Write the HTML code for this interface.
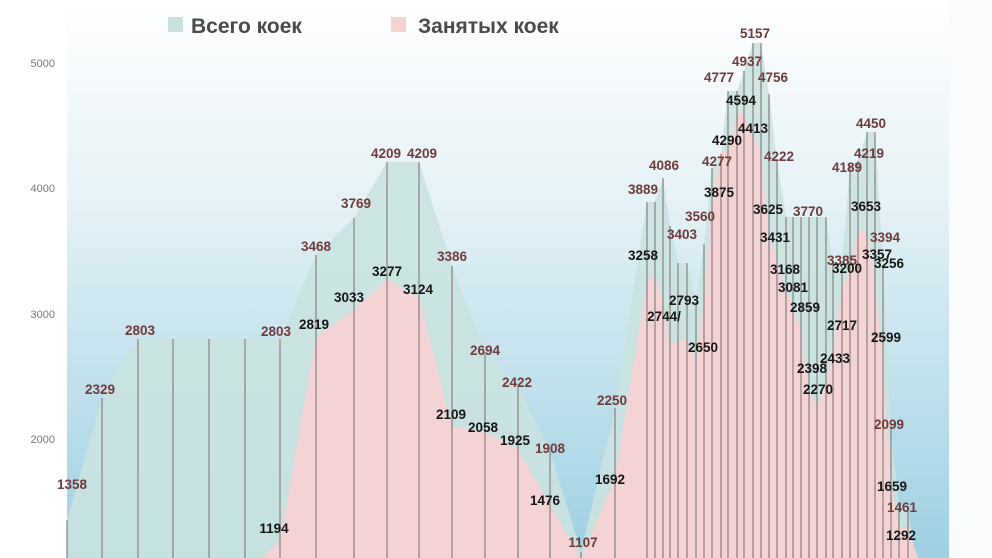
<!DOCTYPE html>
<html><head><meta charset="utf-8"><style>
html,body{margin:0;padding:0;background:#fff;}
svg{display:block;font-family:"Liberation Sans","DejaVu Sans",sans-serif;}
.t{fill:#6e3a3a;font-weight:bold;font-size:13.5px;text-anchor:middle;}
.o{fill:#151515;font-weight:bold;font-size:13.5px;text-anchor:middle;}
.ax{fill:#777;font-size:11px;text-anchor:end;}
</style></head><body>
<svg width="992" height="558" viewBox="0 0 992 558">
<defs>
<linearGradient id="bg" x1="0" y1="0" x2="0" y2="1">
<stop offset="0" stop-color="#ffffff"/><stop offset="0.35" stop-color="#e6f2f6"/><stop offset="1" stop-color="#9fd0e2"/>
</linearGradient>
</defs>
<rect x="0" y="0" width="992" height="558" fill="#fff"/>
<rect x="67" y="0" width="882" height="558" fill="url(#bg)"/>
<rect x="949" y="0" width="43" height="558" fill="#fafbfb"/>
<text class="ax" x="55" y="67">5000</text>
<text class="ax" x="55" y="192">4000</text>
<text class="ax" x="55" y="318">3000</text>
<text class="ax" x="55" y="443">2000</text>
<polygon fill="#c9e2df" fill-opacity="0.88" points="67,558 67,520 102,398 138,339 173,339 209,339 245,339 280,339 316,255 354,218 387,162 419,162 452,266 485,352 518,387 550,451 581,552 615,408 647,202 655,202 663,178 670,226 678,263 687,263 696,302 704,244 712,168 721,154 728,91 737,91 744,71 753,43 761,43 769,94 777,161 786,217 793,217 801,217 809,217 817,217 826,217 833,266 842,266 850,165 858,161 867,132 875,132 883,265 891,427 899,507 908,507 915,558"/>
<polygon fill="#f5d2d3" fill-opacity="0.96" points="250,558 262,558 280,541 316,337 354,310 387,279 419,298 452,426 485,432 518,449 550,505 581,558 615,478 647,282 655,276 663,302 670,346 678,340 687,340 696,358 704,302 712,204 721,152 728,152 737,114 744,114 753,137 761,151 769,236 777,260 786,293 793,304 801,332 809,390 817,406 826,385 833,350 842,289 850,269 858,232 867,232 875,282 883,364 891,482 899,528 908,528 918,558"/>
<g stroke="#8a7f80" stroke-width="1.5" stroke-opacity="0.8">
<line x1="67" y1="520" x2="67" y2="558"/><line x1="102" y1="398" x2="102" y2="558"/><line x1="138" y1="339" x2="138" y2="558"/><line x1="173" y1="339" x2="173" y2="558"/><line x1="209" y1="339" x2="209" y2="558"/><line x1="245" y1="339" x2="245" y2="558"/><line x1="280" y1="339" x2="280" y2="558"/><line x1="316" y1="255" x2="316" y2="558"/><line x1="354" y1="218" x2="354" y2="558"/><line x1="387" y1="162" x2="387" y2="558"/><line x1="419" y1="162" x2="419" y2="558"/><line x1="452" y1="266" x2="452" y2="558"/><line x1="485" y1="352" x2="485" y2="558"/><line x1="518" y1="387" x2="518" y2="558"/><line x1="550" y1="451" x2="550" y2="558"/><line x1="581" y1="552" x2="581" y2="558"/><line x1="615" y1="408" x2="615" y2="558"/>
<line x1="647" y1="202" x2="647" y2="558"/><line x1="655" y1="202" x2="655" y2="558"/><line x1="663" y1="178" x2="663" y2="558"/><line x1="670" y1="226" x2="670" y2="558"/><line x1="678" y1="263" x2="678" y2="558"/><line x1="687" y1="263" x2="687" y2="558"/><line x1="696" y1="302" x2="696" y2="558"/><line x1="704" y1="244" x2="704" y2="558"/><line x1="712" y1="168" x2="712" y2="558"/><line x1="721" y1="154" x2="721" y2="558"/><line x1="728" y1="91" x2="728" y2="558"/><line x1="737" y1="91" x2="737" y2="558"/><line x1="744" y1="71" x2="744" y2="558"/><line x1="753" y1="43" x2="753" y2="558"/><line x1="761" y1="43" x2="761" y2="558"/><line x1="769" y1="94" x2="769" y2="558"/><line x1="777" y1="161" x2="777" y2="558"/><line x1="786" y1="217" x2="786" y2="558"/><line x1="793" y1="217" x2="793" y2="558"/><line x1="801" y1="217" x2="801" y2="558"/><line x1="809" y1="217" x2="809" y2="558"/><line x1="817" y1="217" x2="817" y2="558"/><line x1="826" y1="217" x2="826" y2="558"/><line x1="833" y1="266" x2="833" y2="558"/><line x1="842" y1="266" x2="842" y2="558"/><line x1="850" y1="165" x2="850" y2="558"/><line x1="858" y1="161" x2="858" y2="558"/><line x1="867" y1="132" x2="867" y2="558"/><line x1="875" y1="132" x2="875" y2="558"/><line x1="883" y1="265" x2="883" y2="558"/><line x1="891" y1="427" x2="891" y2="558"/><line x1="899" y1="507" x2="899" y2="558"/><line x1="908" y1="507" x2="908" y2="558"/>
</g>
<rect x="168" y="17" width="15" height="15" fill="#c9e2df"/>
<text x="191" y="33" font-size="21" font-weight="bold" fill="#4a4a4a">Всего коек</text>
<rect x="391" y="17" width="15" height="15" fill="#f5d3d3"/>
<text x="418" y="33" font-size="21" font-weight="bold" fill="#4a4a4a">Занятых коек</text>
<g>
<text x="72" y="489" class="t">1358</text><text x="100" y="394" class="t">2329</text><text x="140" y="335" class="t">2803</text><text x="276" y="336" class="t">2803</text><text x="316" y="251" class="t">3468</text><text x="356" y="208" class="t">3769</text><text x="386" y="158" class="t">4209</text><text x="422" y="158" class="t">4209</text><text x="452" y="261" class="t">3386</text><text x="485" y="355" class="t">2694</text><text x="517" y="387" class="t">2422</text><text x="550" y="453" class="t">1908</text><text x="583" y="547" class="t">1107</text><text x="612" y="405" class="t">2250</text><text x="643" y="194" class="t">3889</text><text x="664" y="170" class="t">4086</text><text x="682" y="239" class="t">3403</text><text x="700" y="221" class="t">3560</text><text x="717" y="166" class="t">4277</text><text x="719" y="82" class="t">4777</text><text x="747" y="66" class="t">4937</text><text x="755" y="38" class="t">5157</text><text x="773" y="82" class="t">4756</text><text x="779" y="161" class="t">4222</text><text x="808" y="216" class="t">3770</text><text x="847" y="172" class="t">4189</text><text x="869" y="158" class="t">4219</text><text x="871" y="128" class="t">4450</text><text x="842" y="265" class="t">3385</text><text x="885" y="242" class="t">3394</text><text x="889" y="429" class="t">2099</text><text x="902" y="512" class="t">1461</text>
</g>
<g>
<text x="274" y="533" class="o">1194</text><text x="314" y="329" class="o">2819</text><text x="349" y="302" class="o">3033</text><text x="387" y="276" class="o">3277</text><text x="418" y="294" class="o">3124</text><text x="451" y="419" class="o">2109</text><text x="483" y="432" class="o">2058</text><text x="515" y="445" class="o">1925</text><text x="545" y="505" class="o">1476</text><text x="610" y="484" class="o">1692</text><text x="643" y="260" class="o">3258</text><text x="664" y="321" class="o">2744/</text><text x="684" y="305" class="o">2793</text><text x="703" y="352" class="o">2650</text><text x="719" y="197" class="o">3875</text><text x="727" y="145" class="o">4290</text><text x="741" y="105" class="o">4594</text><text x="753" y="133" class="o">4413</text><text x="768" y="214" class="o">3625</text><text x="775" y="242" class="o">3431</text><text x="785" y="274" class="o">3168</text><text x="793" y="292" class="o">3081</text><text x="805" y="312" class="o">2859</text><text x="812" y="373" class="o">2398</text><text x="818" y="394" class="o">2270</text><text x="835" y="363" class="o">2433</text><text x="842" y="330" class="o">2717</text><text x="847" y="273" class="o">3200</text><text x="877" y="259" class="o">3357</text><text x="866" y="211" class="o">3653</text><text x="889" y="268" class="o">3256</text><text x="886" y="342" class="o">2599</text><text x="892" y="491" class="o">1659</text><text x="901" y="540" class="o">1292</text>
</g>
</svg>
</body></html>
